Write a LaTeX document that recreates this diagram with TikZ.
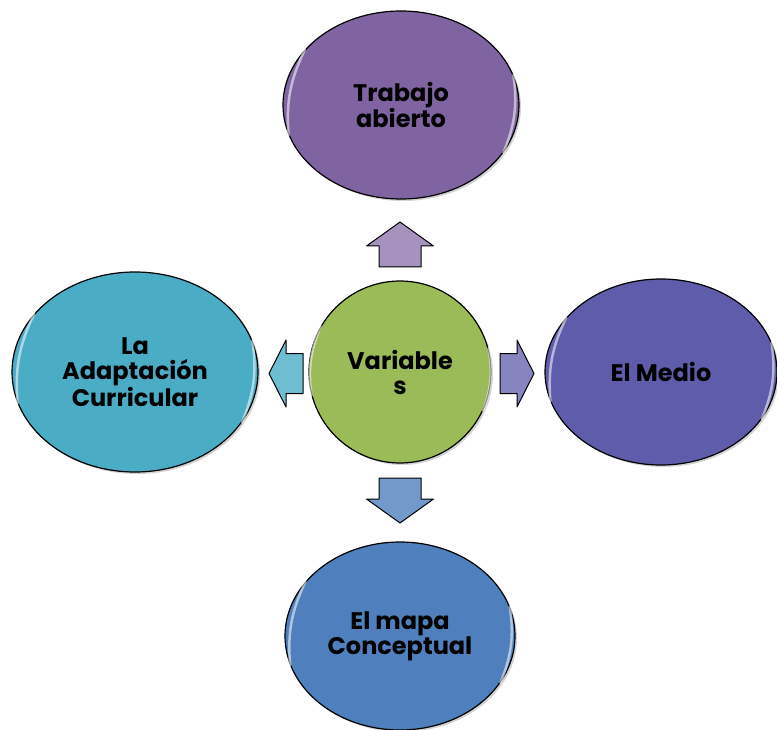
\documentclass[tikz,border=0pt]{standalone}
\usepackage{fontspec}
\setmainfont{Poppins}
\usetikzlibrary{positioning,shapes.geometric,shadows}
\definecolor{topcol}{HTML}{8064A2}
\definecolor{midcol}{HTML}{9BBB59}
\definecolor{rightcol}{HTML}{5E5CAB}
\definecolor{leftcol}{HTML}{4BACC6}
\definecolor{botcol}{HTML}{4F7FBC}
\tikzset{
  bubble/.style={ellipse, draw=black, line width=1.2pt, inner sep=0pt,
    align=center, font=\fontsize{24}{25}\selectfont\bfseries,
    drop shadow={shadow xshift=2pt, shadow yshift=-2pt, opacity=0.35}},
  gloss/.style={white, line width=2.5pt, opacity=0.55, line cap=round},
  pointer/.style={draw=black, line width=1pt, line join=round},
  % length, head length, head width, shaft width
  pics/arrowbox/.style n args={4}{code={
    \path[pointer, pic actions] (-#1/2,-#4/2) -- (#1/2-#2,-#4/2) -- (#1/2-#2,-#3/2)
      -- (#1/2,0) -- (#1/2-#2,#3/2) -- (#1/2-#2,#4/2) -- (-#1/2,#4/2) -- cycle;}}
}
\begin{document}
\begin{tikzpicture}[x=1pt,y=-1pt]
  \useasboundingbox (0,0) rectangle (777,730);
  % centre
  \node[bubble, fill=midcol, minimum width=182pt, minimum height=182pt] (mid) at (400,372) {Variable\\s};
  % outer bubbles
  \node[bubble, fill=topcol, minimum width=236pt, minimum height=188pt] (top) at (401,105) {Trabajo\\abierto};
  \node[bubble, fill=rightcol, minimum width=232pt, minimum height=186pt] (right) at (661,372) {El Medio};
  \node[bubble, fill=leftcol, minimum width=246pt, minimum height=200pt] (left) at (135,372) {La\\Adaptación\\Curricular};
  \node[bubble, fill=botcol, minimum width=230pt, minimum height=188pt] (bot) at (400,636) {El mapa\\Conceptual};

  % arrows
  \coordinate (toup) at (400,244.5);
  \coordinate (todown) at (400,500.5);
  \coordinate (toleft) at (286,373.5);
  \coordinate (toright) at (517,373.5);
  \pic[fill=topcol!70, rotate=90] at (toup) {arrowbox={45}{24}{67}{42}};
  \pic[fill=botcol!80, rotate=-90] at (todown) {arrowbox={45}{24}{67}{42}};
  \pic[fill=leftcol!80, rotate=180] at (toleft) {arrowbox={34}{17}{67}{40}};
  \pic[fill=rightcol!75] at (toright) {arrowbox={34}{17}{67}{40}};

  % highlights
  \foreach \n in {mid,top,right,left,bot}{
    \draw[gloss] (\n.150) to[bend right=15] (\n.195);
    \draw[gloss] (\n.335) to[bend right=15] (\n.15);
  }
\end{tikzpicture}
\end{document}
